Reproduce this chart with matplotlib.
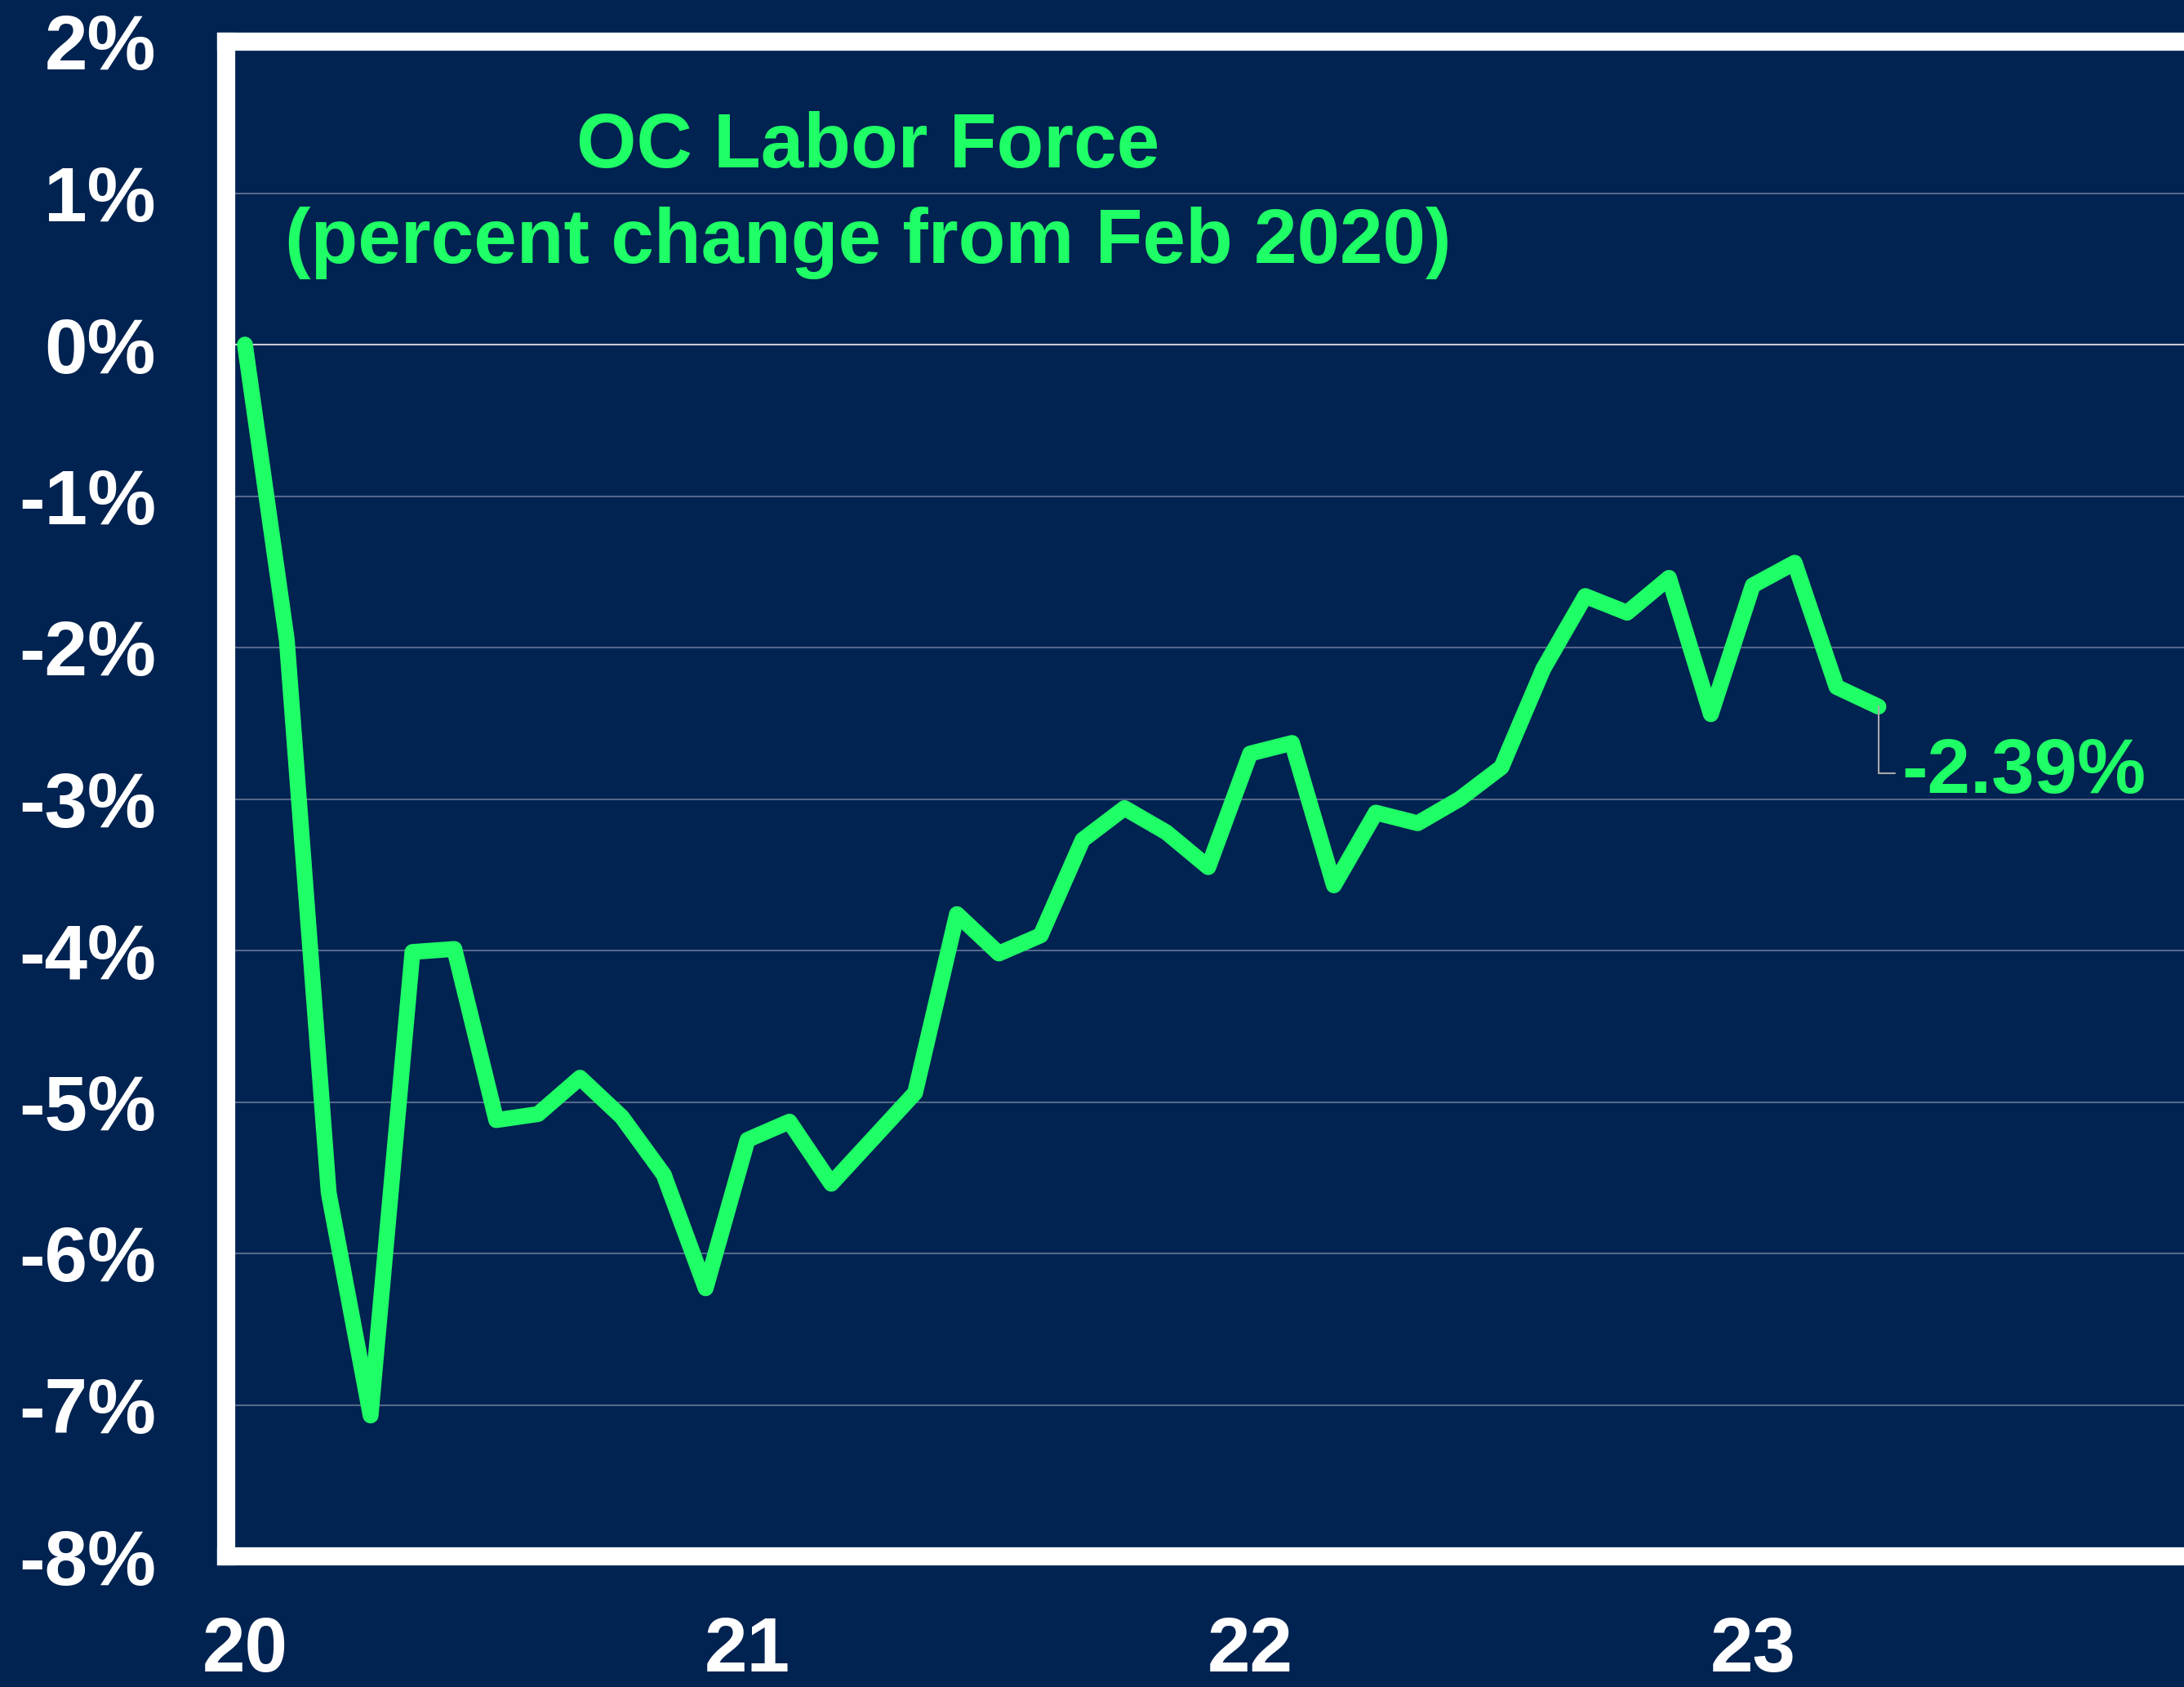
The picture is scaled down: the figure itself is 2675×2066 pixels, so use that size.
import numpy as np
import matplotlib
matplotlib.use('Agg')
import matplotlib.pyplot as plt

# OC labor force, percent change from Feb 2020 (monthly, Feb 2020 - May 2023)
pct_change = [0.00, -1.95, -5.60, -7.07, -4.01, -3.99, -5.12, -5.08, -4.84, -5.10,
              -5.48, -6.23, -5.25, -5.13, -5.54, -5.24, -4.94, -3.76, -4.02, -3.90,
              -3.27, -3.06, -3.22, -3.45, -2.70, -2.63, -3.57, -3.09, -3.16, -3.00,
              -2.79, -2.14, -1.66, -1.77, -1.54, -2.44, -1.59, -1.44, -2.26, -2.39]
year_ticks = [0, 12, 24, 36]
year_labels = ['20', '21', '22', '23']
y_ticks = list(range(-8, 3))

bg = '#012351'
green = '#1fff66'
fs = 68

plt.rcParams['font.family'] = ['Liberation Sans', 'DejaVu Sans']
plt.rcParams['font.weight'] = 'bold'

W, H = 2675, 2066
fig = plt.figure(figsize=(W / 100, H / 100), dpi=100, facecolor=bg)
ax = fig.add_axes([277 / W, (H - 1906) / H, 1 - 277 / W, 1855 / H], facecolor=bg)

x = np.arange(len(pct_change))
for v in y_ticks[1:-1]:
    if v == 0:
        ax.axhline(v, color='#c8ccd4', lw=1.5, zorder=1)
    else:
        ax.axhline(v, color='#53688a', lw=1.5, zorder=1)

ax.plot(x, pct_change, color=green, lw=14, solid_joinstyle='round',
        solid_capstyle='round', zorder=3)

ax.set_xlim((277 - 300) / 51.3, (W - 300) / 51.3)
ax.set_ylim(-8, 2)
ax.set_yticks(y_ticks)
ax.set_yticklabels([f'{v}%' for v in y_ticks])
ax.set_xticks(year_ticks)
ax.set_xticklabels(year_labels)
ax.tick_params(axis='y', length=0, pad=62, labelsize=fs, labelcolor='white')
ax.tick_params(axis='x', length=0, pad=52, labelsize=fs, labelcolor='white')
for lab in ax.get_xticklabels() + ax.get_yticklabels():
    lab.set_fontweight('bold')

for side in ['left', 'bottom', 'top']:
    ax.spines[side].set_color('white')
    ax.spines[side].set_linewidth(16)
    ax.spines[side].set_capstyle('projecting')
ax.spines['right'].set_visible(False)

fig.text(1063 / W, 1 - 181 / H, 'OC Labor Force', color=green, fontsize=fs,
         fontweight='bold', ha='center', va='center')
fig.text(1063 / W, 1 - 298 / H, '(percent change from Feb 2020)', color=green,
         fontsize=fs, fontweight='bold', ha='center', va='center')

last = pct_change[-1]
ax.annotate(f'{last:.2f}%', xy=(x[-1], last), xytext=(39.55, -2.83),
            color=green, fontsize=fs, fontweight='bold', ha='left', va='center',
            arrowprops=dict(arrowstyle='-', color='#a8a8a8', lw=1.5,
                            connectionstyle='angle,angleA=0,angleB=90,rad=0',
                            shrinkA=4, shrinkB=0),
            zorder=4)

plt.savefig('out.png', dpi=100, facecolor=bg)
